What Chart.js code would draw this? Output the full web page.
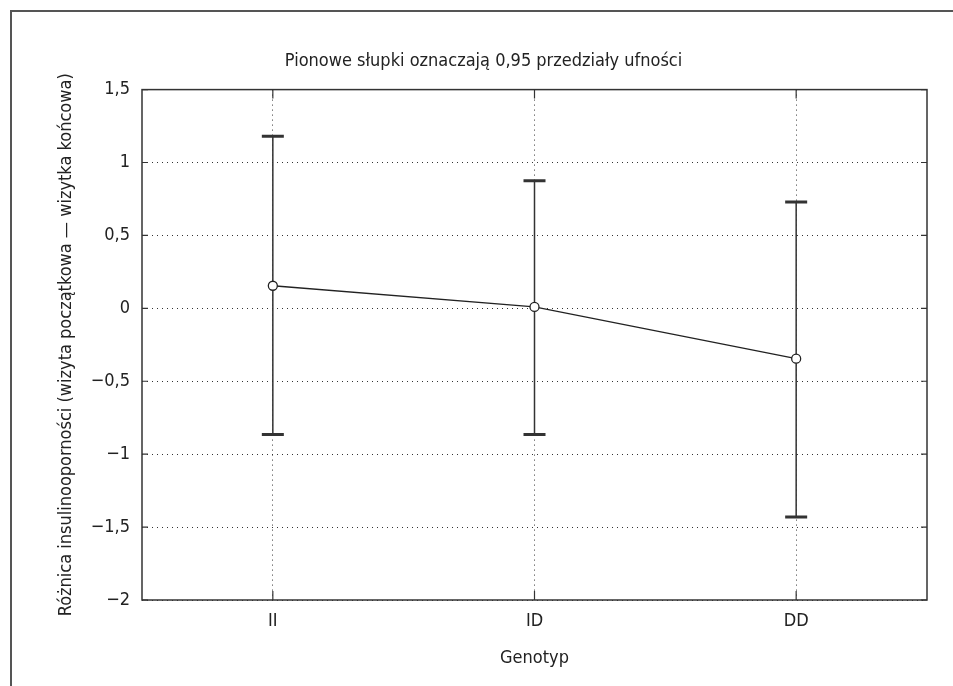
<!DOCTYPE html>
<html>
<head>
<meta charset="utf-8">
<script src="https://cdn.jsdelivr.net/npm/chart.js@4"></script>
<style>
  html, body { margin: 0; padding: 0; background: #fff; }
  #wrap { position: relative; width: 953px; height: 686px; }
  #frame {
    position: absolute; left: 10px; top: 10px; right: 0; bottom: 0;
    border-top: 2px solid #555; border-left: 2px solid #555;
    pointer-events: none;
  }
</style>
</head>
<body>
<div id="wrap">
  <canvas id="chart" width="953" height="686"></canvas>
  <div id="frame"></div>
</div>
<script>
  const genotypes = ["II", "ID", "DD"];
  const meanDiff = [0.155, 0.01, -0.345];
  const ciUpper = [1.18, 0.875, 0.73];
  const ciLower = [-0.865, -0.865, -1.43];
  const yMin = -2;
  const yMax = 1.5;
  const yStep = 0.5;

  const FONT = "'Liberation Sans Narrow', 'DejaVu Sans Condensed', 'Arial Narrow', sans-serif";
  const INK = "#222";

  function fmt(v) {
    if (Math.abs(v) < 1e-9) return "0";
    return String(v).replace(".", ",").replace("-", "\u2212");
  }

  // error bars with caps, drawn under the points
  const errorBars = {
    id: "errorBars",
    beforeDatasetsDraw(chart) {
      const ctx = chart.ctx;
      const x = chart.scales.x;
      const y = chart.scales.y;
      ctx.save();
      ctx.strokeStyle = "#333";
      genotypes.forEach((g, i) => {
        const px = x.getPixelForValue(i);
        const top = y.getPixelForValue(ciUpper[i]);
        const bot = y.getPixelForValue(ciLower[i]);
        ctx.lineWidth = 1.5;
        ctx.beginPath();
        ctx.moveTo(px, top);
        ctx.lineTo(px, bot);
        ctx.stroke();
        ctx.lineWidth = 3;
        ctx.beginPath();
        ctx.moveTo(px - 11, top);
        ctx.lineTo(px + 11, top);
        ctx.moveTo(px - 11, bot);
        ctx.lineTo(px + 11, bot);
        ctx.stroke();
      });
      ctx.restore();
    }
  };

  // plot box and inward tick marks
  const plotBox = {
    id: "plotBox",
    beforeDatasetsDraw(chart) {
      const ctx = chart.ctx;
      const a = chart.chartArea;
      const x = chart.scales.x;
      const y = chart.scales.y;
      ctx.save();
      ctx.strokeStyle = "#333";
      ctx.lineWidth = 1.5;
      ctx.strokeRect(a.left, a.top, a.right - a.left, a.bottom - a.top);
      ctx.lineWidth = 1.2;
      ctx.beginPath();
      x.ticks.forEach((t, i) => {
        const px = x.getPixelForTick(i);
        ctx.moveTo(px, a.bottom);
        ctx.lineTo(px, a.bottom - 9);
        ctx.moveTo(px, a.top);
        ctx.lineTo(px, a.top + 9);
      });
      y.ticks.forEach((t, i) => {
        const py = y.getPixelForTick(i);
        ctx.moveTo(a.left, py);
        ctx.lineTo(a.left + 6, py);
        ctx.moveTo(a.right, py);
        ctx.lineTo(a.right - 6, py);
      });
      ctx.stroke();
      ctx.restore();
    }
  };

  new Chart(document.getElementById("chart"), {
    type: "line",
    data: {
      labels: genotypes,
      datasets: [
        {
          data: meanDiff,
          borderColor: INK,
          borderWidth: 1.3,
          pointRadius: 4.5,
          pointBackgroundColor: "#fff",
          pointBorderColor: INK,
          pointBorderWidth: 1.3,
          tension: 0,
        },
      ],
    },
    options: {
      responsive: false,
      animation: false,
      layout: { padding: { left: 40, right: 26, top: 0, bottom: 0 } },
      plugins: {
        legend: { display: false },
        tooltip: { enabled: false },
        title: {
          display: true,
          text: "Pionowe słupki oznaczają 0,95 przedziały ufności",
          color: INK,
          font: { family: FONT, size: 18, weight: "normal" },
          padding: { top: 51, bottom: 17 },
        },
      },
      scales: {
        x: {
          type: "category",
          offset: true,
          afterFit(scale) { scale.height = 86; },
          grid: {
            color: "#333",
            lineWidth: 1,
            drawTicks: false,
          },
          border: { display: false, dash: [1, 4] },
          ticks: {
            color: INK,
            padding: 11,
            font: { family: FONT, size: 18 },
          },
          title: {
            display: true,
            text: "Genotyp",
            color: INK,
            font: { family: FONT, size: 18 },
            padding: { top: 0, bottom: 17 },
          },
        },
        y: {
          min: yMin,
          max: yMax,
          afterFit(scale) { scale.width = 102; },
          grid: {
            color: "#333",
            lineWidth: 1,
            drawTicks: false,
          },
          border: { display: false, dash: [1, 4] },
          ticks: {
            stepSize: yStep,
            color: INK,
            padding: 12,
            font: { family: FONT, size: 18 },
            callback: (v) => fmt(v),
          },
          title: {
            display: true,
            text: "Różnica insulinooporności (wizyta początkowa — wizytka końcowa)",
            color: INK,
            font: { family: FONT, size: 18 },
            padding: { top: 16, bottom: 0 },
          },
        },
      },
    },
    plugins: [errorBars, plotBox],
  });
</script>
</body>
</html>
